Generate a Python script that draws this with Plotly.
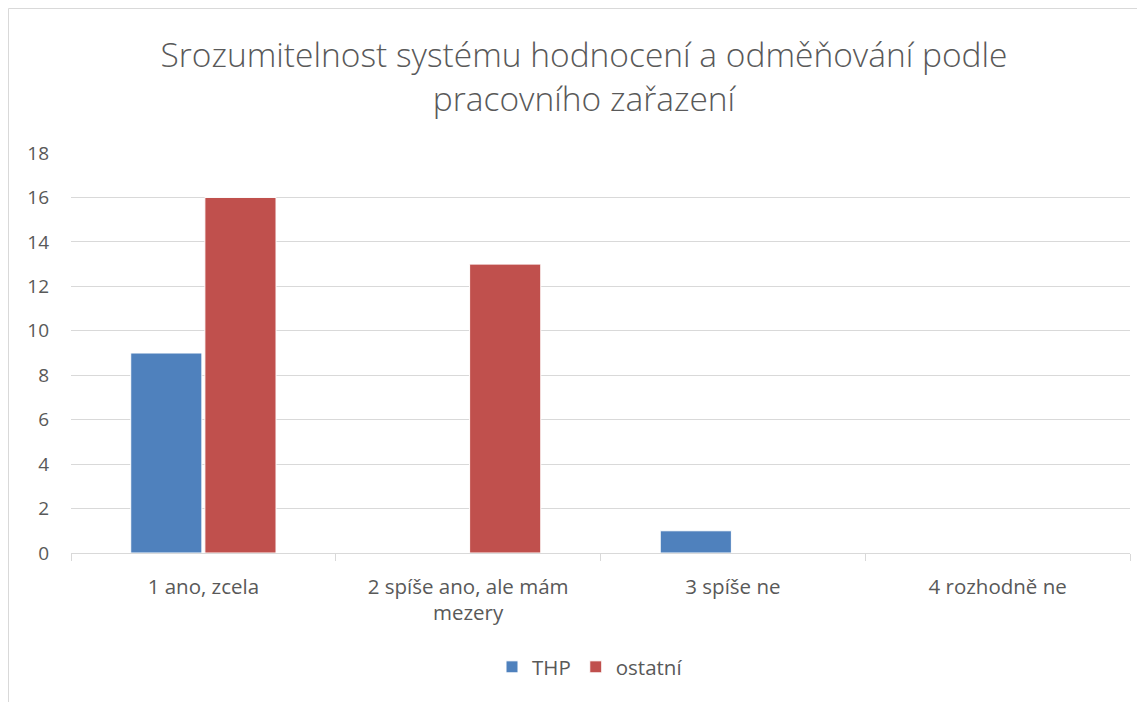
import plotly.graph_objects as go

categories = ["1 ano, zcela", "2 spíše ano, ale mám<br>mezery", "3 spíše ne", "4 rozhodně ne"]
thp = [9, 0, 1, 0]
ostatni = [16, 13, 0, 0]
y_ticks = [0, 2, 4, 6, 8, 10, 12, 14, 16, 18]

FONT = "Open Sans"
GREY = "#595959"

fig = go.Figure()
fig.add_trace(go.Bar(name="THP", x=categories, y=thp, marker=dict(color="#4f81bd", line=dict(color="white", width=1))))
fig.add_trace(go.Bar(name="ostatní", x=categories, y=ostatni, marker=dict(color="#c0504d", line=dict(color="white", width=1))))

# page is offset by 8px body margin
OFF = 8
W, H = 1137, 694
L, T = 71 - OFF, 153 - OFF
R = W - (1130 - OFF)
B = H - (553 - OFF)
pw, ph = W - L - R, H - T - B

def px(x):
    return (x - OFF - L) / pw

def py(y):
    return 1 - (y - OFF - T) / ph

fig.update_layout(
    width=W, height=H,
    margin=dict(l=L, r=R, t=T, b=B),
    paper_bgcolor="white", plot_bgcolor="white",
    font=dict(family=FONT, color=GREY, size=19),
    title=dict(text="Srozumitelnost systému hodnocení a odměňování podle<br>pracovního zařazení",
               x=(584 - OFF) / W, xanchor="center", y=1 - (67 - OFF) / H, yanchor="middle",
               font=dict(family=FONT, size=33.5, color=GREY, weight=300)),
    barmode="group", bargap=0.44, bargroupgap=0.04,
    showlegend=True,
    legend=dict(orientation="h", x=px(590), xanchor="center", y=py(667), yanchor="middle",
                font=dict(family=FONT, size=20.5, color=GREY), traceorder="normal",
                itemwidth=30),
    xaxis=dict(type="category", showline=True, linecolor="#d9d9d9", linewidth=1,
               ticks="outside", tickson="boundaries", ticklen=7, tickcolor="#d9d9d9",
               ticklabelstandoff=15,
               tickfont=dict(family=FONT, size=20.5, color=GREY), showgrid=False),
    yaxis=dict(range=[0, 18], tickvals=y_ticks, showgrid=True, gridcolor="#d9d9d9", gridwidth=1,
               zeroline=False, showline=False, ticks="", ticklabelstandoff=21,
               tickfont=dict(family=FONT, size=19, color=GREY)),
    shapes=[
        dict(type="line", xref="paper", yref="paper", x0=px(8.5), x1=px(1160), y0=py(8.5), y1=py(8.5),
             line=dict(color="#d9d9d9", width=1)),
        dict(type="line", xref="paper", yref="paper", x0=px(8.5), x1=px(8.5), y0=py(8.5), y1=py(720),
             line=dict(color="#d9d9d9", width=1)),
    ],
)

fig.write_html("out.html")
